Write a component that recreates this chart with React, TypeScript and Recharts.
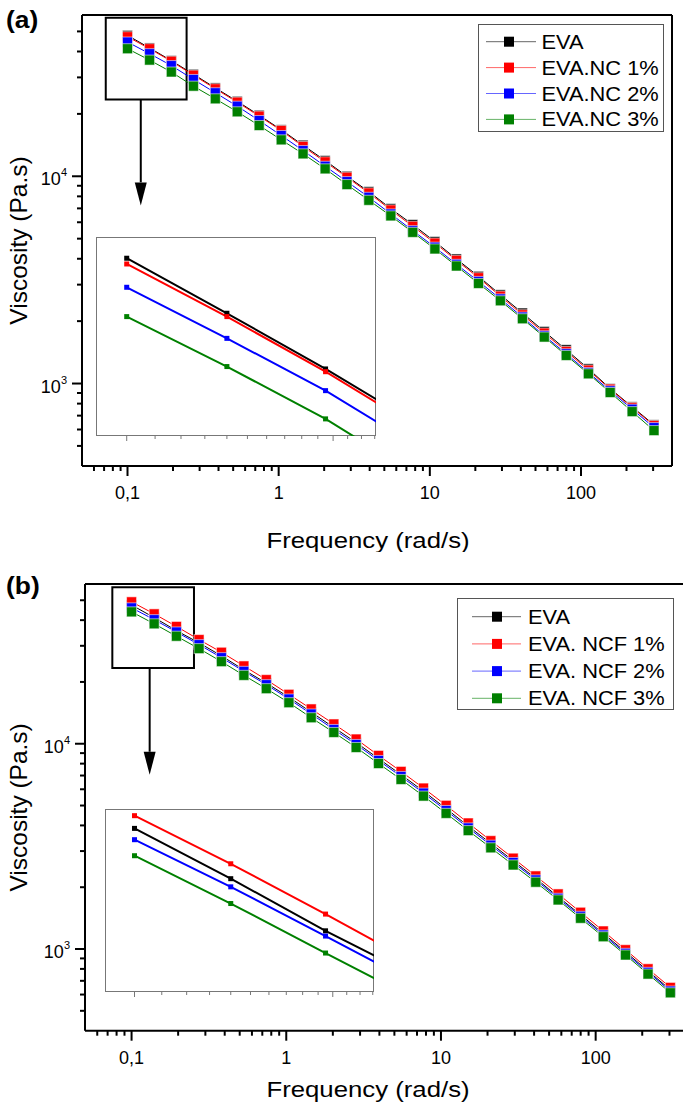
import React from 'react';
import {
  LineChart,
  Line,
  XAxis,
  YAxis,
  Legend,
  ReferenceArea,
  ReferenceLine,
  ReferenceDot,
} from 'recharts';

// angular frequency (rad/s), shared by both sweeps
const frequency = [
  0.1, 0.14, 0.195, 0.273, 0.381, 0.532, 0.743, 1.04, 1.45, 2.03, 2.83, 3.95, 5.52, 7.71, 10.8,
  15.0, 21.0, 29.3, 41.0, 57.2, 79.9, 112, 156, 218, 304,
];

// (a) EVA / nanoclay, complex viscosity (Pa.s)
const evaA = [
  47830, 41610, 36140, 31050, 26700, 23000, 19700, 16760, 14120, 11910, 10000, 8430, 6980, 5845,
  4840, 3990, 3290, 2680, 2188, 1783, 1455, 1178, 945, 772, 632,
];
const evaNc1 = [
  47140, 41260, 35890, 30750, 26440, 22780, 19500, 16630, 13920, 11740, 9890, 8310, 6880, 5735,
  4760, 3930, 3240, 2640, 2147, 1752, 1428, 1161, 940, 766, 627,
];
const evaNc2 = [
  44440, 39050, 34210, 29320, 25290, 21790, 18580, 15730, 13310, 11180, 9430, 7920, 6580, 5467,
  4550, 3760, 3110, 2560, 2093, 1700, 1392, 1130, 922, 752, 613,
];
const evaNc3 = [
  41260, 36360, 31850, 27220, 23650, 20470, 17580, 14990, 12830, 10860, 9120, 7660, 6440, 5364,
  4460, 3690, 3040, 2508, 2054, 1676, 1366, 1114, 905, 732, 593,
];

// (b) EVA / NCF
const evaB = [
  47400, 41160, 35560, 31000, 26800, 22900, 19750, 16850, 14250, 12000, 10130, 8460, 7070, 5870,
  4830, 3970, 3270, 2690, 2210, 1795, 1468, 1190, 968, 782, 633,
];
const evaNcf1 = [
  49120, 42920, 37270, 32160, 27900, 23930, 20520, 17400, 14770, 12480, 10540, 8770, 7330, 6080,
  5010, 4110, 3370, 2770, 2270, 1855, 1510, 1224, 992, 801, 650,
];
const evaNcf2 = [
  45920, 40230, 35040, 30400, 26270, 22530, 19400, 16520, 13960, 11740, 9920, 8290, 6930, 5750,
  4730, 3890, 3205, 2640, 2171, 1767, 1444, 1170, 953, 770, 624,
];
const evaNcf3 = [
  43900, 38390, 33410, 29070, 25120, 21540, 18550, 15850, 13390, 11350, 9590, 8010, 6700, 5560,
  4580, 3775, 3112, 2567, 2116, 1734, 1412, 1148, 935, 755, 612,
];

const namesA = ['EVA', 'EVA.NC 1%', 'EVA.NC 2%', 'EVA.NC 3%'];
const namesB = ['EVA', 'EVA. NCF 1%', 'EVA. NCF 2%', 'EVA. NCF 3%'];
const colors = ['#000000', '#ff0000', '#0000ff', '#008000'];

const xMajorTicks = [0.1, 1, 10, 100];
const xMajorLabels = ['0,1', '1', '10', '100'];
const xMinorTicks = [
  0.06, 0.07, 0.08, 0.09, 0.2, 0.3, 0.4, 0.5, 0.6, 0.7, 0.8, 0.9, 2, 3, 4, 5, 6, 7, 8, 9, 20, 30,
  40, 50, 60, 70, 80, 90, 200, 300,
];
const yMajorTicks = [1000, 10000];
const yMajorExponents = ['3', '4'];
const yMinorTicks = [
  500, 600, 700, 800, 900, 2000, 3000, 4000, 5000, 6000, 7000, 8000, 9000, 20000, 30000, 40000,
  50000,
];
const insetTicks = [
  0.1, 0.11, 0.12, 0.13, 0.14, 0.15, 0.16, 0.17, 0.18, 0.19, 0.2, 0.21, 0.22, 0.23,
];
const insetMajorTicks = [0.1, 0.2];

const X_DOMAIN = [0.05, 400];
const Y_DOMAIN = [400, 60000];
const INSET_X_DOMAIN = [0.0902, 0.231];

const FONT = '"Liberation Sans", Arial, Helvetica, sans-serif';

function buildRows(series: number[][]) {
  return frequency.map((f, i) => {
    const row: Record<string, number> = { f };
    series.forEach((s, k) => {
      row[`s${k}`] = s[i];
    });
    return row;
  });
}

// text slightly wider than the font, like the original export
function WideText({ x, y, size, sx = 1, weight = 'normal', anchor = 'start', rotate = 0, children }: any) {
  return (
    <text
      transform={`translate(${x},${y}) rotate(${rotate}) scale(${sx},1)`}
      fontSize={size}
      fontWeight={weight}
      textAnchor={anchor}
      fill="#000"
      style={{ fontFamily: FONT }}
    >
      {children}
    </text>
  );
}

function FreqTick(props: any) {
  const { x, y, payload, labelDy } = props;
  const idx = xMajorTicks.indexOf(payload.value);
  const major = idx >= 0;
  return (
    <g>
      <line x1={x} x2={x} y1={y} y2={y + (major ? 10 : 5)} stroke="#000" strokeWidth={2} />
      {major && (
        <text x={x} y={y + labelDy} textAnchor="middle" fontSize={18} fill="#000" style={{ fontFamily: FONT }}>
          {xMajorLabels[idx]}
        </text>
      )}
    </g>
  );
}

function ViscTick(props: any) {
  const { x, y, payload } = props;
  const idx = yMajorTicks.indexOf(payload.value);
  const major = idx >= 0;
  return (
    <g>
      <line x1={x - (major ? 10 : 5)} x2={x} y1={y} y2={y} stroke="#000" strokeWidth={2} />
      {major && (
        <text x={x - 15} y={y + 9} textAnchor="end" fontSize={18} fill="#000" style={{ fontFamily: FONT }}>
          10
          <tspan dy={-9} fontSize={11}>
            {yMajorExponents[idx]}
          </tspan>
        </text>
      )}
    </g>
  );
}

function InsetTick(props: any) {
  const { x, y, payload } = props;
  const major = insetMajorTicks.includes(payload.value);
  return <line x1={x} x2={x} y1={y} y2={y + (major ? 5 : 3)} stroke="#777" strokeWidth={1} />;
}

function AxisTitle({ tx, ty, rotate = 0, sx = 1, size = 22, text }: any) {
  return (
    <WideText x={tx} y={ty} size={size} sx={sx} rotate={rotate} anchor="middle">
      {text}
    </WideText>
  );
}

const squareDot = (color: string, size: number, edge: string) => (props: any) => {
  const { cx, cy, index } = props;
  if (cx == null || cy == null) return <g key={index} />;
  return (
    <rect
      key={index}
      x={cx - size / 2}
      y={cy - size / 2}
      width={size}
      height={size}
      fill={color}
      stroke={edge}
      strokeWidth={size > 6 ? 1 : 0}
    />
  );
};

const arrowHead = (props: any) => {
  const { cx, cy } = props;
  return <polygon points={`${cx - 6},${cy - 23} ${cx + 6},${cy - 23} ${cx},${cy}`} fill="#000" />;
};

function LegendBox({ names, lg }: any) {
  return (
    <svg width={lg.width} height={lg.height} style={{ display: 'block', overflow: 'visible' }}>
      <rect x={0.5} y={0.5} width={lg.width - 1} height={lg.height - 1} fill="#fff" stroke="#555" strokeWidth={1} />
      {names.map((n: string, i: number) => {
        const cy = lg.firstRow + i * lg.rowGap;
        return (
          <g key={n}>
            <line x1={lg.lineX1} x2={lg.lineX2} y1={cy} y2={cy} stroke={colors[i]} strokeWidth={1} strokeOpacity={0.6} />
            <rect x={lg.markX - 5} y={cy - 5} width={10} height={10} fill={colors[i]} />
            <WideText x={lg.textX} y={cy + 7} size={19.5} sx={1.12}>
              {n}
            </WideText>
          </g>
        );
      })}
    </svg>
  );
}

function ViscosityPanel(p: any) {
  const rows = buildRows(p.series);
  return (
    <div style={{ position: 'absolute', left: 0, top: p.top, width: p.width, height: p.height }}>
      <LineChart width={p.width} height={p.height} data={rows} margin={p.margin}>
        <XAxis
          dataKey="f"
          type="number"
          scale="log"
          domain={X_DOMAIN}
          ticks={[...xMinorTicks, ...xMajorTicks]}
          interval={0}
          tickSize={0}
          tickMargin={0}
          height={30}
          axisLine={{ stroke: '#000', strokeWidth: 2 }}
          tickLine={false}
          tick={<FreqTick labelDy={p.tickLabelDy} />}
          label={<AxisTitle tx={p.xTitle.x} ty={p.xTitle.y} size={23} sx={1.12} text="Frequency (rad/s)" />}
        />
        <YAxis
          type="number"
          scale="log"
          domain={Y_DOMAIN}
          ticks={[...yMinorTicks, ...yMajorTicks]}
          interval={0}
          tickSize={0}
          tickMargin={0}
          width={60}
          axisLine={{ stroke: '#000', strokeWidth: 2 }}
          tickLine={false}
          tick={<ViscTick />}
          label={<AxisTitle tx={p.yTitle.x} ty={p.yTitle.y} rotate={-90} size={24.5} text="Viscosity (Pa.s)" />}
        />
        <ReferenceLine y={Y_DOMAIN[1]} stroke="#000" strokeWidth={2} />
        <ReferenceLine x={X_DOMAIN[1]} stroke="#000" strokeWidth={2} />
        <ReferenceArea
          x1={p.zoomBox.x1}
          x2={p.zoomBox.x2}
          y1={p.zoomBox.y1}
          y2={p.zoomBox.y2}
          fill="none"
          fillOpacity={0}
          stroke="#000"
          strokeWidth={2}
        />
        <ReferenceLine
          segment={[
            { x: p.arrow.x, y: p.zoomBox.y1 },
            { x: p.arrow.x, y: p.arrow.yHead },
          ]}
          stroke="#000"
          strokeWidth={2}
        />
        <ReferenceDot x={p.arrow.x} y={p.arrow.yTip} r={0} shape={arrowHead} />
        {p.names.map((n: string, k: number) => (
          <Line
            key={n}
            type="linear"
            dataKey={`s${k}`}
            name={n}
            stroke={colors[k]}
            strokeWidth={1}
            dot={squareDot(colors[k], 10, 'rgba(255,255,255,0.55)')}
            activeDot={false}
            isAnimationActive={false}
          />
        ))}
        <Legend
          layout="horizontal"
          verticalAlign="middle"
          align="center"
          wrapperStyle={{ left: p.legend.left, top: p.legend.top, width: p.legend.width, height: p.legend.height }}
          content={() => <LegendBox names={p.names} lg={p.legend} />}
        />
      </LineChart>
      <svg
        width={60}
        height={40}
        style={{ position: 'absolute', left: 0, top: p.panelLabel.top, overflow: 'visible' }}
      >
        <WideText x={6} y={p.panelLabel.baseline} size={24} sx={1.1} weight="bold">
          {p.label}
        </WideText>
      </svg>
    </div>
  );
}

function Inset(p: any) {
  const rows = buildRows(p.series);
  return (
    <div style={{ position: 'absolute', left: p.left, top: p.top }}>
      <div
        style={{
          position: 'absolute',
          left: 0,
          top: 0,
          width: p.width,
          height: p.height,
          boxSizing: 'border-box',
          border: '1px solid #777',
          background: '#fff',
        }}
      />
      <div style={{ position: 'absolute', left: 0, top: 0 }}>
        <LineChart width={p.width} height={p.height + 8} data={rows} margin={{ top: 0, right: 0, bottom: 0, left: 0 }}>
          <XAxis
            dataKey="f"
            type="number"
            scale="log"
            domain={INSET_X_DOMAIN}
            allowDataOverflow
            ticks={insetTicks}
            interval={0}
            tickSize={0}
            tickMargin={0}
            height={8}
            axisLine={false}
            tickLine={false}
            tick={<InsetTick />}
          />
          <YAxis type="number" scale="log" domain={p.yDomain} allowDataOverflow hide />
          {p.series.map((_: number[], k: number) => (
            <Line
              key={k}
              type="linear"
              dataKey={`s${k}`}
              stroke={colors[k]}
              strokeWidth={2}
              dot={squareDot(colors[k], 5, 'none')}
              activeDot={false}
              isAnimationActive={false}
            />
          ))}
        </LineChart>
      </div>
    </div>
  );
}

const panelA = {
  label: '(a)',
  names: namesA,
  series: [evaA, evaNc1, evaNc2, evaNc3],
  top: 0,
  width: 683,
  height: 552,
  margin: { top: 15, right: 11, bottom: 56, left: 22 },
  tickLabelDy: 33,
  xTitle: { x: 368, y: 548 },
  yTitle: { x: 27, y: 240.5 },
  legend: { left: 478, top: 24, width: 186, height: 108, firstRow: 17.7, rowGap: 25.9, lineX1: 8, lineX2: 58, markX: 31, textX: 63.5 },
  zoomBox: { x1: 0.0718, x2: 0.246, y1: 23470, y2: 58240 },
  arrow: { x: 0.1224, yHead: 9350, yTip: 7220 },
  panelLabel: { top: 0, baseline: 28 },
};

const panelB = {
  label: '(b)',
  names: namesB,
  series: [evaB, evaNcf1, evaNcf2, evaNcf3],
  top: 560,
  width: 700,
  height: 544,
  margin: { top: 24, right: 11.2, bottom: 43.3, left: 25 },
  tickLabelDy: 33,
  xTitle: { x: 368, y: 537 },
  yTitle: { x: 27, y: 247.4 },
  legend: { left: 457, top: 38, width: 217, height: 112, firstRow: 18.7, rowGap: 27.2, lineX1: 15, lineX2: 64, markX: 40, textX: 71 },
  zoomBox: { x1: 0.0751, x2: 0.2532, y1: 23410, y2: 57870 },
  arrow: { x: 0.1309, yHead: 9140, yTip: 7060 },
  panelLabel: { top: 0, baseline: 34 },
};

export default function App() {
  return (
    <div
      style={{
        position: 'absolute',
        left: 0,
        top: 0,
        width: 683,
        height: 1104,
        overflow: 'hidden',
        background: '#fff',
        fontFamily: FONT,
      }}
    >
      <ViscosityPanel {...panelA} />
      <ViscosityPanel {...panelB} />
      <Inset left={96} top={237} width={280} height={199} series={panelA.series} yDomain={[30500, 50470]} />
      <Inset left={105} top={809} width={269} height={183} series={panelB.series} yDomain={[29950, 50050]} />
    </div>
  );
}
